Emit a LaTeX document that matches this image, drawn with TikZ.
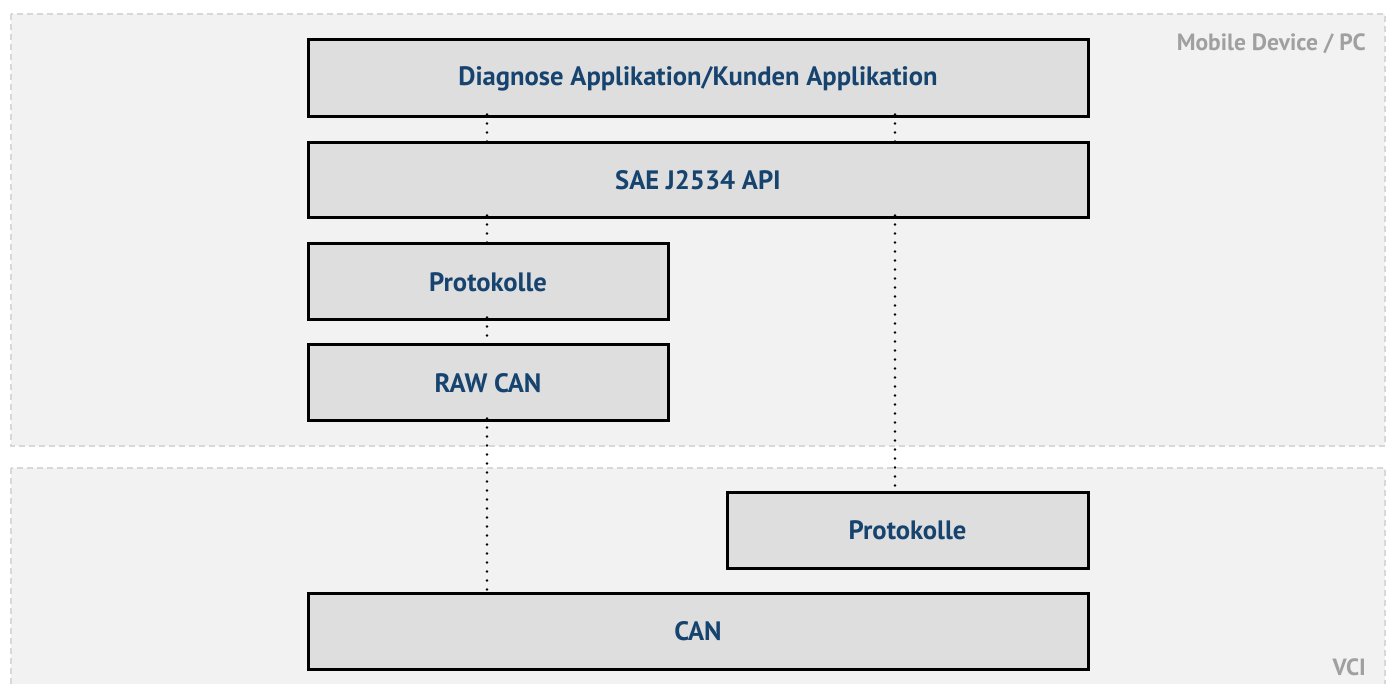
\documentclass[tikz,border=0pt]{standalone}
\usepackage{fontspec}
\setmainfont{PT Sans}
\definecolor{panelfill}{HTML}{F2F2F2}
\definecolor{paneldash}{HTML}{D8D8D8}
\definecolor{boxfill}{HTML}{DEDEDE}
\definecolor{boxtext}{HTML}{17446F}
\definecolor{labelgray}{HTML}{A0A0A0}
\begin{document}
\begin{tikzpicture}[x=1pt,y=-1pt,
  panel/.style={fill=panelfill,draw=paneldash,line width=1.5pt,dash pattern=on 6pt off 4pt},
  layer/.style={draw=black,fill=boxfill,line width=3pt,inner sep=0pt,
    font=\fontsize{26.6}{30}\selectfont\bfseries,text=boxtext},
  panellabel/.style={font=\fontsize{23.5}{26}\selectfont\bfseries,text=labelgray,inner sep=0pt},
  link/.style={line width=2.8pt,dash pattern=on 0pt off 9pt,line cap=round}]
\useasboundingbox (0,0) rectangle (1390,684);
% panels
\draw[panel] (11,14) rectangle (1385,446);
\draw[panel] (11,468) rectangle (1385,700);
\node[panellabel,anchor=base east] (lblpc) at (1366,51) {Mobile Device / PC};
\node[panellabel,anchor=base east] (lblvci) at (1366,675) {VCI};
% layers
\node[layer,minimum width=780pt,minimum height=77pt] (app) at (698,78.5) {Diagnose Applikation/Kunden Applikation};
\node[layer,minimum width=780pt,minimum height=75pt] (api) at (698,180.5) {SAE J2534 API};
\node[layer,minimum width=360pt,minimum height=76pt] (prot) at (488,282) {Protokolle};
\node[layer,minimum width=360pt,minimum height=76pt] (raw) at (488,383) {RAW CAN};
\node[layer,minimum width=361pt,minimum height=76pt] (protv) at (907.5,530) {Protokolle};
\node[layer,minimum width=780pt,minimum height=76pt] (can) at (698,631) {CAN};
% connector columns
\coordinate (cl) at (487,0);
\coordinate (cr) at (895,0);
\draw[link] ([yshift=4pt]app.south -| cl) -- (api.north -| cl);
\draw[link] ([yshift=4pt]app.south -| cr) -- (api.north -| cr);
\draw[link] ([yshift=4pt]api.south -| cl) -- (prot.north -| cl);
\draw[link] ([yshift=4pt]prot.south -| cl) -- (raw.north -| cl);
\draw[link] ([yshift=4pt]raw.south -| cl) -- (can.north -| cl);
\draw[link] ([yshift=4pt]api.south -| cr) -- (protv.north -| cr);
\end{tikzpicture}
\end{document}
